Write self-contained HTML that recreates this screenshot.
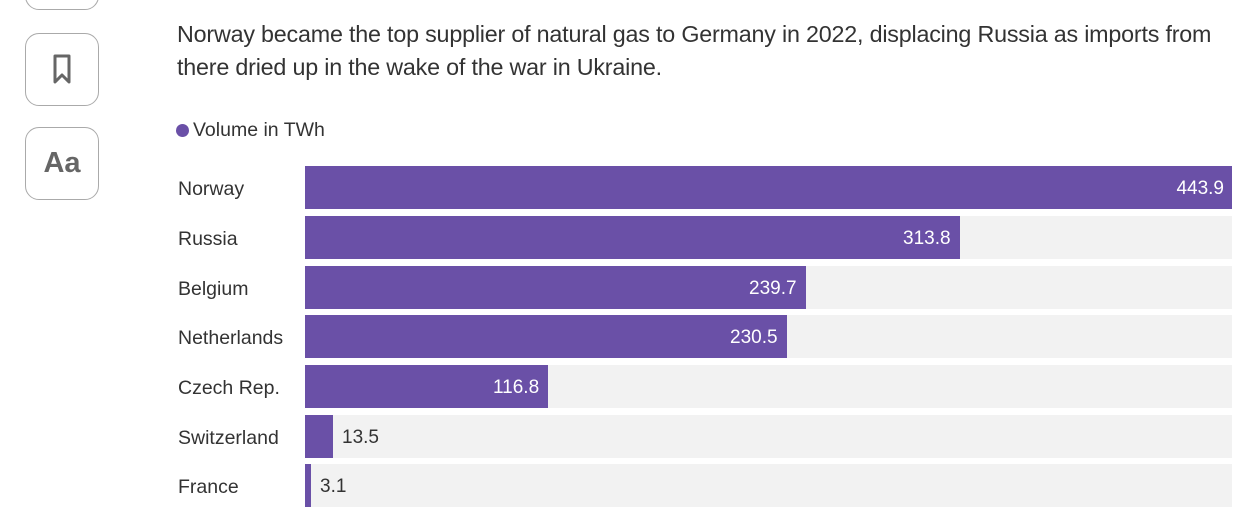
<!DOCTYPE html>
<html><head><style>
body{margin:0;width:1236px;height:500px;overflow:hidden;background:#fff;font-family:"Liberation Sans",sans-serif;color:#333;position:relative}
.btn{position:absolute;left:25px;width:74px;border:1px solid #aaa;border-radius:14px;box-sizing:border-box}
.t{position:absolute;left:177px;font-size:23.3px;line-height:33px;color:#333;letter-spacing:-0.2px;white-space:nowrap}
.lab{position:absolute;left:178px;font-size:19.5px;color:#333}
.track{position:absolute;left:305px;width:927px;height:43px;background:#f2f2f2}
.bar{position:absolute;left:0;top:0;height:43px;background:#6a50a7}
.v{position:absolute;top:1px;line-height:43px;font-size:19px}
</style></head><body>
<div class="btn" style="top:-20px;height:30px"></div>
<div class="btn" style="top:33px;height:73px">
<svg style="position:absolute;left:27px;top:20px" width="18" height="32" viewBox="0 0 18 32"><path d="M2 2H16V28L9 21L2 28Z" fill="none" stroke="#666" stroke-width="3" stroke-linejoin="round"/></svg>
</div>
<div class="btn" style="top:127px;height:73px"><div style="position:absolute;left:0;right:0;top:19px;text-align:center;font-weight:bold;font-size:29px;color:#666">Aa</div></div>
<div class="t" style="top:18px">Norway became the top supplier of natural gas to Germany in 2022, displacing Russia as imports from</div>
<div class="t" style="top:51px">there dried up in the wake of the war in Ukraine.</div>
<div style="position:absolute;left:176px;top:124px;width:13px;height:13px;border-radius:50%;background:#6a50a7"></div>
<div style="position:absolute;left:193px;top:119px;font-size:19.5px;color:#333">Volume in TWh</div>

<div class="lab" style="top:178px">Norway</div>
<div class="track" style="top:166px"><div class="bar" style="width:927px"></div><div class="v" style="right:8px;color:#fff">443.9</div></div>
<div class="lab" style="top:228px">Russia</div>
<div class="track" style="top:216px"><div class="bar" style="width:655px"></div><div class="v" style="left:598px;color:#fff">313.8</div></div>
<div class="lab" style="top:278px">Belgium</div>
<div class="track" style="top:266px"><div class="bar" style="width:501px"></div><div class="v" style="left:444px;color:#fff">239.7</div></div>
<div class="lab" style="top:327px">Netherlands</div>
<div class="track" style="top:315px"><div class="bar" style="width:482px"></div><div class="v" style="left:425px;color:#fff">230.5</div></div>
<div class="lab" style="top:377px">Czech Rep.</div>
<div class="track" style="top:365px"><div class="bar" style="width:243px"></div><div class="v" style="left:188px;color:#fff">116.8</div></div>
<div class="lab" style="top:427px">Switzerland</div>
<div class="track" style="top:415px"><div class="bar" style="width:28px"></div><div class="v" style="left:37px;color:#333">13.5</div></div>
<div class="lab" style="top:476px">France</div>
<div class="track" style="top:464px"><div class="bar" style="width:6px"></div><div class="v" style="left:15px;color:#333">3.1</div></div>
</body></html>
